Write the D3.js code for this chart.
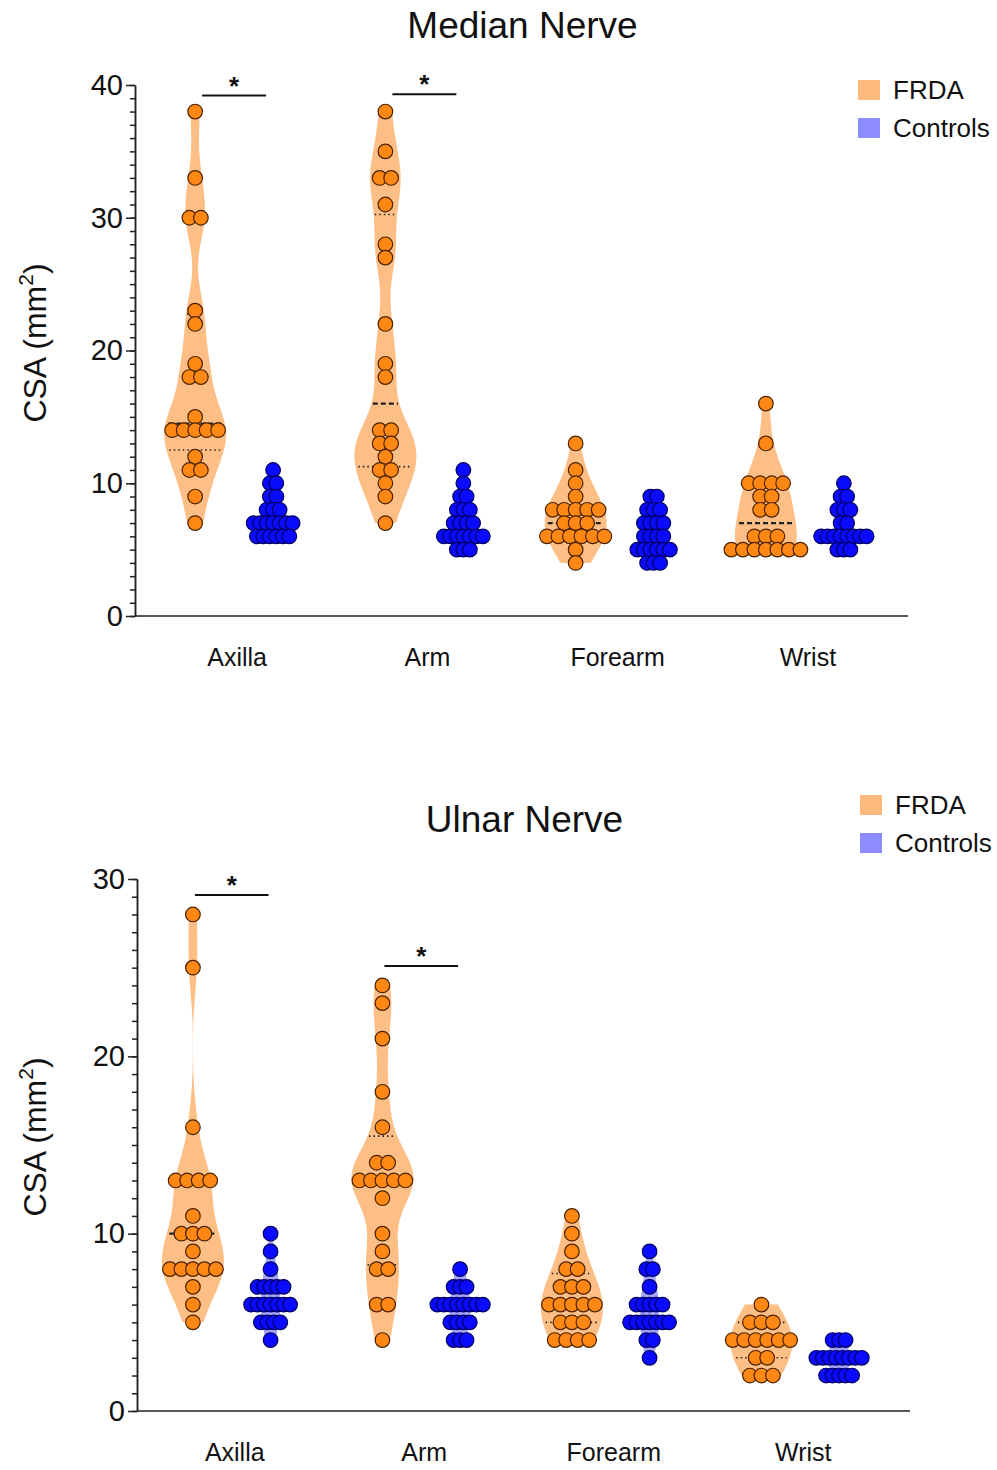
<!DOCTYPE html>
<html>
<head>
<meta charset="utf-8">
<script src="https://cdn.jsdelivr.net/npm/d3@7"></script>
<style>
  body { margin: 0; background: #fff; }
  text { font-family: "Liberation Sans", Arial, sans-serif; fill: #111; }
</style>
</head>
<body>
<svg id="chart" width="997" height="1470"></svg>
<script>
const categories = ["Axilla", "Arm", "Forearm", "Wrist"];
const seriesNames = ["FRDA", "Controls"];

// Median nerve CSA (mm2), one list per site
const medianFRDA = [
  [38, 33, 30, 30, 23, 22, 19, 18, 18, 15, 14, 14, 14, 14, 14, 12, 11, 11, 9, 7],
  [38, 35, 33, 33, 31, 28, 27, 22, 19, 18, 14, 14, 13, 13, 12, 11, 11, 10, 9, 7],
  [13, 11, 10, 9, 8, 8, 8, 8, 8, 7, 7, 7, 6, 6, 6, 6, 6, 6, 5, 4],
  [16, 13, 10, 10, 10, 10, 9, 9, 8, 8, 6, 6, 6, 5, 5, 5, 5, 5, 5, 5]
];
const medianControls = [
  [11, 10, 10, 9, 9, 8, 8, 8, 7, 7, 7, 7, 7, 7, 7, 6, 6, 6, 6, 6, 6],
  [11, 10, 9, 9, 8, 8, 8, 7, 7, 7, 7, 6, 6, 6, 6, 6, 6, 6, 5, 5, 5],
  [9, 9, 8, 8, 8, 7, 7, 7, 7, 6, 6, 6, 6, 5, 5, 5, 5, 5, 5, 4, 4, 4],
  [10, 9, 9, 8, 8, 8, 7, 7, 6, 6, 6, 6, 6, 6, 6, 6, 5, 5, 5]
];
const medianTicks = [0, 10, 20, 30, 40];
const medianSig = [{ cat: "Axilla", y: 39.2 }, { cat: "Arm", y: 39.3 }];

// Ulnar nerve CSA (mm2)
const ulnarFRDA = [
  [28, 25, 16, 13, 13, 13, 13, 11, 10, 10, 10, 9, 8, 8, 8, 8, 8, 7, 6, 5],
  [24, 23, 21, 18, 16, 14, 14, 13, 13, 13, 13, 13, 12, 10, 9, 8, 8, 6, 6, 4],
  [11, 10, 9, 8, 8, 7, 7, 7, 6, 6, 6, 6, 6, 5, 5, 5, 4, 4, 4, 4],
  [6, 5, 5, 5, 4, 4, 4, 4, 4, 4, 3, 3, 2, 2, 2]
];
const ulnarControls = [
  [10, 9, 8, 7, 7, 7, 7, 7, 6, 6, 6, 6, 6, 6, 6, 5, 5, 5, 5, 4],
  [8, 7, 7, 7, 6, 6, 6, 6, 6, 6, 6, 6, 5, 5, 5, 5, 4, 4, 4],
  [9, 8, 8, 7, 6, 6, 6, 6, 6, 5, 5, 5, 5, 5, 5, 5, 4, 4, 3],
  [4, 4, 4, 3, 3, 3, 3, 3, 3, 3, 3, 2, 2, 2, 2, 2]
];
const ulnarTicks = [0, 10, 20, 30];
const ulnarSig = [{ cat: "Axilla", y: 29.1 }, { cat: "Arm", y: 25.1 }];

const colors = {
  FRDA: { violin: "#fdbf86", fill: "#ff8714", stroke: "#4a2200", legend: "#fdb97c" },
  Controls: { violin: "#a3a3ff", fill: "#0a0aff", stroke: "#00005e", legend: "#8c8cff" }
};

const panels = [
  { title: "Median Nerve", frda: medianFRDA, controls: medianControls, ticks: medianTicks, sig: medianSig,
    top: 85, bottom: 616, left: 135, right: 908, band: [139, 900], bw: 2,
    titleY: 38, legendX: 858, legendY: 80, labelCY: 343, sigInset: 7 },
  { title: "Ulnar Nerve", frda: ulnarFRDA, controls: ulnarControls, ticks: ulnarTicks, sig: ulnarSig,
    top: 879, bottom: 1411, left: 137, right: 910, band: [137, 895], bw: 1.5,
    titleY: 832, legendX: 860, legendY: 795, labelCY: 1137, sigInset: 2 }
];

const svg = d3.select("#chart");

// GraphPad-style quantile: position (n+1)p
function quantile(sorted, p) {
  const n = sorted.length, pos = (n + 1) * p;
  if (pos <= 1) return sorted[0];
  if (pos >= n) return sorted[n - 1];
  const i = Math.floor(pos);
  return sorted[i - 1] + (pos - i) * (sorted[i] - sorted[i - 1]);
}

function density(values, bw) {
  return v => d3.sum(values, d => Math.exp(-0.5 * ((v - d) / bw) ** 2));
}

panels.forEach(p => {
  const g = svg.append("g");
  const yMax = d3.max(p.ticks);

  const y = d3.scaleLinear().domain([0, yMax]).range([p.bottom, p.top]);
  const x0 = d3.scaleBand().domain(categories).range(p.band);
  const x1 = d3.scalePoint().domain(seriesNames).range([0, x0.bandwidth()]).padding(0.72);

  // title
  g.append("text")
    .attr("x", (p.left + p.right) / 2 + 1)
    .attr("y", p.titleY)
    .attr("text-anchor", "middle")
    .attr("font-size", 37)
    .text(p.title);

  // y label
  const yl = g.append("text")
    .attr("transform", `translate(46,${p.labelCY}) rotate(-90)`)
    .attr("text-anchor", "middle")
    .attr("font-size", 32);
  yl.append("tspan").text("CSA (mm");
  yl.append("tspan").attr("font-size", 21).attr("dy", -13).text("2");
  yl.append("tspan").attr("dy", 13).text(")");

  // violins and quartile lines
  categories.forEach((cat, ci) => {
    seriesNames.forEach(s => {
      const vals = (s === "FRDA" ? p.frda : p.controls)[ci].slice().sort(d3.ascending);
      const cx = x0(cat) + x1(s);
      const c = colors[s];
      const maxHalf = s === "FRDA" ? 31 : 10;
      const dens = density(vals, p.bw);
      const lo = vals[0], hi = vals[vals.length - 1];
      const grid = d3.range(lo, hi + 0.0001, 0.05);
      const dMax = d3.max(grid, dens);
      const half = v => dens(v) / dMax * maxHalf;

      g.append("path")
        .datum(grid)
        .attr("fill", c.violin)
        .attr("d", d3.area()
          .x0(v => cx - half(v))
          .x1(v => cx + half(v))
          .y(v => y(v)));

      const stats = [
        { v: quantile(vals, 0.25), dash: "1.5,3", w: 1.6 },
        { v: quantile(vals, 0.5), dash: "5,3", w: 2.2 },
        { v: quantile(vals, 0.75), dash: "1.5,3", w: 1.6 }
      ];
      g.selectAll(null).data(stats).join("line")
        .attr("x1", d => cx - half(d.v) * 0.9)
        .attr("x2", d => cx + half(d.v) * 0.9)
        .attr("y1", d => y(d.v))
        .attr("y2", d => y(d.v))
        .attr("stroke", "#222")
        .attr("stroke-width", d => d.w)
        .attr("stroke-dasharray", d => d.dash);
    });
  });

  // scatter points, equal values spread in a centred row
  categories.forEach((cat, ci) => {
    seriesNames.forEach(s => {
      const vals = (s === "FRDA" ? p.frda : p.controls)[ci];
      const cx = x0(cat) + x1(s);
      const c = colors[s];
      const step = s === "FRDA" ? 11.5 : 6.5;
      const pts = [];
      d3.rollups(vals, v => v.length, d => d).forEach(([v, k]) => {
        for (let i = 0; i < k; i++) pts.push({ v, dx: (i - (k - 1) / 2) * step });
      });
      g.selectAll(null).data(pts).join("circle")
        .attr("cx", d => cx + d.dx)
        .attr("cy", d => y(d.v))
        .attr("r", 7.3)
        .attr("fill", c.fill)
        .attr("stroke", c.stroke)
        .attr("stroke-width", 1.2);
    });
  });

  // significance bars
  p.sig.forEach(sg => {
    const xa = x0(sg.cat) + x1("FRDA") + p.sigInset;
    const xb = x0(sg.cat) + x1("Controls") - p.sigInset;
    g.append("line")
      .attr("x1", xa).attr("x2", xb)
      .attr("y1", y(sg.y)).attr("y2", y(sg.y))
      .attr("stroke", "#111").attr("stroke-width", 2);
    g.append("text")
      .attr("x", (xa + xb) / 2)
      .attr("y", y(sg.y) - 1)
      .attr("text-anchor", "middle")
      .attr("font-size", 26)
      .attr("font-weight", "bold")
      .text("*");
  });

  // y axis: minor then major
  g.append("g")
    .attr("transform", `translate(${p.left},0)`)
    .call(d3.axisLeft(y).tickValues(d3.range(0, yMax + 1, 1)).tickSize(5).tickSizeOuter(0).tickFormat(""))
    .call(a => a.selectAll("line,path").attr("stroke", "#222").attr("stroke-width", 1.5));
  g.append("g")
    .attr("transform", `translate(${p.left},0)`)
    .call(d3.axisLeft(y).tickValues(p.ticks).tickSize(9).tickSizeOuter(0).tickPadding(3))
    .call(a => a.selectAll("line,path").attr("stroke", "#222").attr("stroke-width", 1.5))
    .call(a => a.selectAll("text").attr("font-size", 29).attr("fill", "#111")
      .attr("font-family", "'Liberation Sans', Arial, sans-serif"));

  // x axis
  g.append("line")
    .attr("x1", p.left).attr("x2", p.right)
    .attr("y1", y(0)).attr("y2", y(0))
    .attr("stroke", "#222").attr("stroke-width", 1.5);
  g.append("g")
    .attr("transform", `translate(3,${y(0)})`)
    .call(d3.axisBottom(x0).tickSize(0).tickPadding(32))
    .call(a => a.select(".domain").remove())
    .call(a => a.selectAll("text").attr("font-size", 25).attr("fill", "#111")
      .attr("font-family", "'Liberation Sans', Arial, sans-serif"));

  // legend
  seriesNames.forEach((s, i) => {
    const ly = p.legendY + i * 38;
    g.append("rect")
      .attr("x", p.legendX).attr("y", ly)
      .attr("width", 22).attr("height", 20)
      .attr("fill", colors[s].legend);
    g.append("text")
      .attr("x", p.legendX + 35).attr("y", ly + 19)
      .attr("font-size", 26)
      .text(s);
  });
});
</script>
</body>
</html>
